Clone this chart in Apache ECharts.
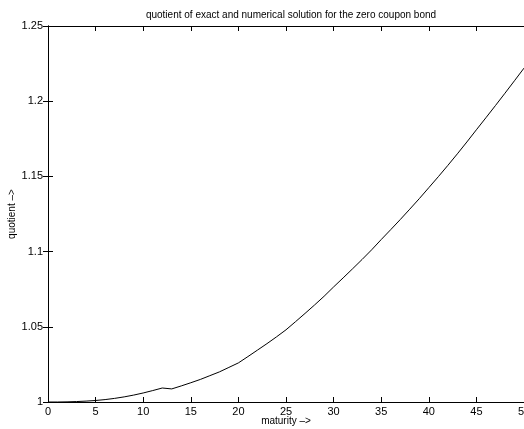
<!DOCTYPE html>
<html>
<head>
<meta charset="utf-8">
<script src="https://cdn.jsdelivr.net/npm/echarts@6/dist/echarts.min.js"></script>
<style>
  html, body { margin: 0; padding: 0; background: #fff; }
  #chart { width: 524px; height: 429px; }
</style>
</head>
<body>
<div id="chart"></div>
<script>
// maturity (years) and quotient exact / numerical
const maturity = [
  0, 1, 2, 3, 4, 5, 6, 7, 8, 9,
  10, 11, 12, 13, 14, 15, 16, 17, 18, 19,
  20, 21, 22, 23, 24, 25, 26, 27, 28, 29,
  30, 31, 32, 33, 34, 35, 36, 37, 38, 39,
  40, 41, 42, 43, 44, 45, 46, 47, 48, 49, 50
];
const quotient = [
  1.0000, 1.0000, 1.0001, 1.0003, 1.0006, 1.0010, 1.0016, 1.0024, 1.0034, 1.0046,
  1.0060, 1.0076, 1.0093, 1.0087, 1.0107, 1.0128, 1.0150, 1.0175, 1.0200, 1.0230,
  1.0260, 1.0302, 1.0345, 1.0388, 1.0433, 1.0480, 1.0534, 1.0589, 1.0645, 1.0703,
  1.0765, 1.0825, 1.0886, 1.0948, 1.1012, 1.1080, 1.1146, 1.1213, 1.1282, 1.1352,
  1.1425, 1.1498, 1.1573, 1.1650, 1.1729, 1.1810, 1.1890, 1.1971, 1.2053, 1.2136, 1.2220
];

const FONT = 'Liberation Sans, Arial, Helvetica, sans-serif';
const chart = echarts.init(document.getElementById('chart'), null, { renderer: 'canvas' });

const boxAxis = {
  axisLine: { show: true, lineStyle: { color: '#000', width: 1 } },
  axisTick: { show: true, inside: true, length: 5, lineStyle: { color: '#000' } },
  splitLine: { show: false }
};

chart.setOption({
  animation: false,
  backgroundColor: '#fff',
  title: {
    text: 'quotient of exact and numerical solution for the zero coupon bond',
    left: 286, top: 5, textAlign: 'center',
    textStyle: { fontFamily: FONT, fontSize: 10, fontWeight: 'normal', color: '#000' }
  },
  grid: { left: 48, top: 26, width: 476, bottom: 27, containLabel: false, outerBoundsMode: 'none' },
  xAxis: [
    Object.assign({
      type: 'value', min: 0, max: 50, interval: 5, position: 'bottom',
      name: 'maturity –>', nameLocation: 'middle', nameGap: 14, nameMoveOverlap: false,
      nameTextStyle: { fontFamily: FONT, fontSize: 10, color: '#000', verticalAlign: 'top' },
      axisLabel: { fontFamily: FONT, fontSize: 11, color: '#000', margin: 4 }
    }, boxAxis),
    Object.assign({
      type: 'value', min: 0, max: 50, interval: 5, position: 'top',
      axisLabel: { show: false }
    }, boxAxis)
  ],
  yAxis: [
    Object.assign({
      type: 'value', min: 1, max: 1.25, interval: 0.05, position: 'left',
      name: 'quotient –>', nameLocation: 'middle', nameGap: 31, nameRotate: 90, nameMoveOverlap: false,
      nameTextStyle: { fontFamily: FONT, fontSize: 10, color: '#000' },
      axisLabel: { fontFamily: FONT, fontSize: 11, color: '#000', margin: 5 }
    }, boxAxis),
    Object.assign({
      type: 'value', min: 1, max: 1.25, interval: 0.05, position: 'right',
      axisLabel: { show: false }
    }, boxAxis)
  ],
  series: [{
    type: 'line',
    xAxisIndex: 0,
    yAxisIndex: 0,
    data: maturity.map((m, i) => [m, quotient[i]]),
    showSymbol: false,
    smooth: false,
    lineStyle: { color: '#000', width: 1 }
  }]
});
</script>
</body>
</html>
